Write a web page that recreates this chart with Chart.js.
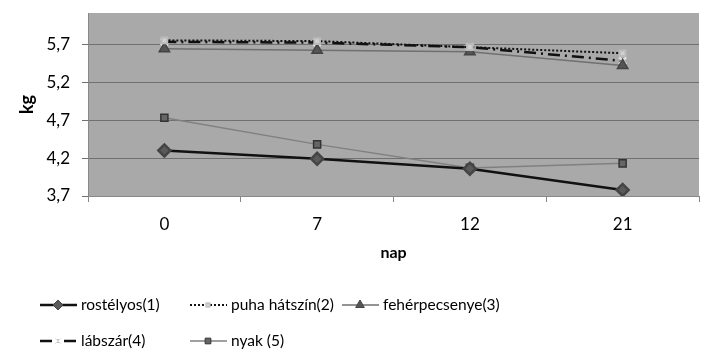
<!DOCTYPE html>
<html>

<head>
    <meta charset="UTF-8">
    <title>kg / nap</title>
    <script src="https://cdn.jsdelivr.net/npm/chart.js"></script>
    <style>
        body { margin: 0; background: #fff; }
        #wrap { width: 712px; height: 363px; position: relative; }
    </style>
</head>

<body>
    <div id="wrap"><canvas id="chart"></canvas></div>
    <script>
        // adatok
        var napok = ['0', '7', '12', '21'];
        var yTicks = [3.7, 4.2, 4.7, 5.2, 5.7];
        var rostelyos = [4.30, 4.19, 4.06, 3.78];
        var puhaHatszin = [5.75, 5.74, 5.66, 5.58];
        var feherpecsenye = [5.64, 5.62, 5.60, 5.42];
        var labszar = [5.73, 5.72, 5.66, 5.48];
        var nyak = [4.73, 4.38, 4.07, 4.13];

        var FONT = 'Lato, "Open Sans", sans-serif';

        // szürke háttér a rajzterületnek
        var plotBg = {
            id: 'plotBg',
            beforeDraw: function (chart) {
                var a = chart.chartArea, c = chart.ctx;
                c.save();
                c.fillStyle = '#a9a9a9';
                c.fillRect(a.left, a.top, a.right - a.left, a.bottom - a.top);
                c.restore();
            }
        };

        // jelmagyarázat két sorban, mint az eredetin
        var legendPos = [[40, 305], [190, 305], [342, 305], [40, 341], [190, 341]];
        var bottomLegend = {
            id: 'bottomLegend',
            afterDraw: function (chart) {
                var c = chart.ctx;
                chart.data.datasets.forEach(function (ds, i) {
                    var x = legendPos[i][0], y = legendPos[i][1];
                    c.save();
                    c.strokeStyle = ds.borderColor;
                    c.lineWidth = ds.borderWidth;
                    c.setLineDash(ds.borderDash || []);
                    c.beginPath();
                    c.moveTo(x, y);
                    c.lineTo(x + 37, y);
                    c.stroke();
                    c.setLineDash([]);
                    c.fillStyle = ds.pointBackgroundColor;
                    c.strokeStyle = ds.pointBorderColor;
                    c.lineWidth = 1;
                    Chart.helpers.drawPoint(c, {
                        pointStyle: ds.pointStyle,
                        radius: ds.pointRadius - 1,
                        rotation: 0,
                        borderWidth: 1
                    }, x + 18, y);
                    c.fillStyle = '#000';
                    c.font = '15.5px ' + FONT;
                    c.textBaseline = 'middle';
                    c.fillText(ds.label, x + 41, y);
                    c.restore();
                });
            }
        };

        var ctx = document.getElementById('chart').getContext('2d');
        var chart = new Chart(ctx, {
            type: 'line',
            data: {
                labels: napok,
                datasets: [
                    {
                        label: 'rostélyos(1)',
                        data: rostelyos,
                        borderColor: '#111',
                        borderWidth: 2.5,
                        pointStyle: 'rectRot',
                        pointRadius: 6,
                        pointBackgroundColor: '#5a5a5a',
                        pointBorderColor: '#444',
                    },
                    {
                        label: 'puha hátszín(2)',
                        data: puhaHatszin,
                        borderColor: '#111',
                        borderWidth: 2,
                        borderDash: [2, 2],
                        pointStyle: 'rect',
                        pointRadius: 4,
                        pointBackgroundColor: '#d0d0d0',
                        pointBorderColor: '#bbb',
                    },
                    {
                        label: 'fehérpecsenye(3)',
                        data: feherpecsenye,
                        borderColor: '#707070',
                        borderWidth: 1.5,
                        pointStyle: 'triangle',
                        pointRadius: 6,
                        pointBackgroundColor: '#555',
                        pointBorderColor: '#444',
                    },
                    {
                        label: 'lábszár(4)',
                        data: labszar,
                        borderColor: '#111',
                        borderWidth: 2.5,
                        borderDash: [12, 5, 2, 5],
                        pointStyle: 'crossRot',
                        pointRadius: 5,
                        pointBackgroundColor: '#ddd',
                        pointBorderColor: '#ddd',
                    },
                    {
                        label: 'nyak (5)',
                        data: nyak,
                        borderColor: '#808080',
                        borderWidth: 1.5,
                        pointStyle: 'rect',
                        pointRadius: 5,
                        pointBackgroundColor: '#666',
                        pointBorderColor: '#333',
                    },
                ],
            },
            options: {
                responsive: true,
                maintainAspectRatio: false,
                animation: false,
                layout: { padding: { top: 13, right: 13, left: 0, bottom: 101 } },
                plugins: {
                    legend: { display: false },
                    tooltip: { enabled: false },
                },
                scales: {
                    x: {
                        offset: true,
                        afterFit: function (s) { s.height = 66; s.paddingLeft = 0; s.paddingRight = 0; },
                        grid: {
                            offset: true,
                            drawOnChartArea: false,
                            color: '#888',
                            tickLength: 6,
                        },
                        border: { color: '#888' },
                        ticks: { color: '#000', padding: 12, font: { family: FONT, size: 17 } },
                        title: {
                            display: true,
                            text: 'nap',
                            color: '#000',
                            padding: 0,
                            font: { family: FONT, size: 16, weight: 'bold' },
                        },
                    },
                    y: {
                        min: 3.7,
                        max: 6.11,
                        afterFit: function (s) { s.width = 88; s.paddingTop = 0; s.paddingBottom = 0; },
                        afterBuildTicks: function (s) {
                            s.ticks = yTicks.map(function (v) { return { value: v }; });
                        },
                        grid: { color: '#707070', tickLength: 6 },
                        border: { color: '#888' },
                        ticks: {
                            color: '#000',
                            padding: 12,
                            font: { family: FONT, size: 17 },
                            callback: function (v) { return v.toFixed(1).replace('.', ','); },
                        },
                        title: {
                            display: true,
                            text: 'kg',
                            color: '#000',
                            padding: { top: 16, bottom: 0 },
                            font: { family: FONT, size: 18, weight: 'bold' },
                        },
                    },
                },
            },
            plugins: [plotBg, bottomLegend],
        });
    </script>
</body>

</html>
